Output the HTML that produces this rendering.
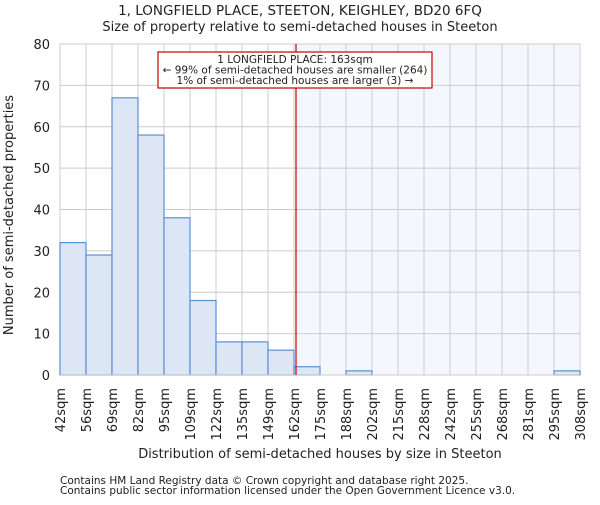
<!DOCTYPE html>
<html><head><meta charset="utf-8"><style>
body{margin:0;background:#fff;}
svg text{font-family:"DejaVu Sans","Liberation Sans",sans-serif;fill:#222;}
</style></head><body>
<svg width="600" height="500" xmlns="http://www.w3.org/2000/svg">
<g id="g"></g>
</svg>
<script>
const binLabels=["42sqm","56sqm","69sqm","82sqm","95sqm","109sqm","122sqm","135sqm","149sqm","162sqm","175sqm","188sqm","202sqm","215sqm","228sqm","242sqm","255sqm","268sqm","281sqm","295sqm","308sqm"];
const counts=[32,29,67,58,38,18,8,8,6,2,0,1,0,0,0,0,0,0,0,1];
const yTicks=[0,10,20,30,40,50,60,70,80];
const subjectBinPos=9+1/13;
const X0=60,X1=580,Y0=375,Y1=44,YMAX=80;
const bw=(X1-X0)/counts.length;
const x=i=>X0+i*bw, y=v=>Y0-(v/YMAX)*(Y0-Y1);
const g=document.getElementById('g');
const NS="http://www.w3.org/2000/svg";
function el(t,a,txt){const e=document.createElementNS(NS,t);for(const k in a)e.setAttribute(k,a[k]);if(txt!==undefined)e.textContent=txt;g.appendChild(e);return e;}
const sx=x(subjectBinPos);
let r=el('rect',{x:sx,y:Y1,width:X1-sx,height:Y0-Y1,fill:'#f4f7fd'});

yTicks.forEach(t=>{let l=el('line',{x1:X0,x2:X1,y1:y(t),y2:y(t),stroke:'#cccccc','stroke-width':1});

let tx=el('text',{x:X0-10,y:y(t)+5,'text-anchor':'end','font-size':13},t);
});
binLabels.forEach((s,i)=>{let l=el('line',{x1:x(i),x2:x(i),y1:Y1,y2:Y0,stroke:'#cccccc','stroke-width':1});

let tx=el('text',{transform:`translate(${x(i)+5},${Y0+13}) rotate(-90)`,'text-anchor':'end','font-size':13},s);
});
counts.forEach((c,i)=>{if(c<=0)return;let b=el('rect',{x:x(i),y:y(c),width:bw,height:Y0-y(c),fill:'#dce6f4',stroke:'#5b8fd6','stroke-width':1.2});
});
let ax=el('line',{x1:X0,x2:X1,y1:Y0,y2:Y0,stroke:'#cccccc'});
let rl=el('line',{x1:sx,x2:sx,y1:Y1,y2:Y0,stroke:'#cc0000','stroke-width':1.2});

let box=el('rect',{x:158,y:52,width:274,height:36,fill:'#fff',stroke:'#cc0000','stroke-width':1.2});

[["1 LONGFIELD PLACE: 163sqm",63],["\u2190 99% of semi-detached houses are smaller (264)",73.5],["1% of semi-detached houses are larger (3) \u2192",84]].forEach(([s,yy])=>{
let t=el('text',{x:295,y:yy,'text-anchor':'middle','font-size':10.5},s);});
let t1=el('text',{x:300,y:15,'text-anchor':'middle','font-size':13.5},"1, LONGFIELD PLACE, STEETON, KEIGHLEY, BD20 6FQ");
let t2=el('text',{x:300,y:31,'text-anchor':'middle','font-size':13},"Size of property relative to semi-detached houses in Steeton");
let xt=el('text',{x:320,y:458,'text-anchor':'middle','font-size':13},"Distribution of semi-detached houses by size in Steeton");
let yt=el('text',{transform:'translate(13,215) rotate(-90)','text-anchor':'middle','font-size':13},"Number of semi-detached properties");
let f1=el('text',{x:60,y:484,'font-size':10.5,fill:'#444'},"Contains HM Land Registry data \u00a9 Crown copyright and database right 2025.");
let f2=el('text',{x:60,y:494,'font-size':10.5,fill:'#444'},"Contains public sector information licensed under the Open Government Licence v3.0.");
</script>
</body></html>
